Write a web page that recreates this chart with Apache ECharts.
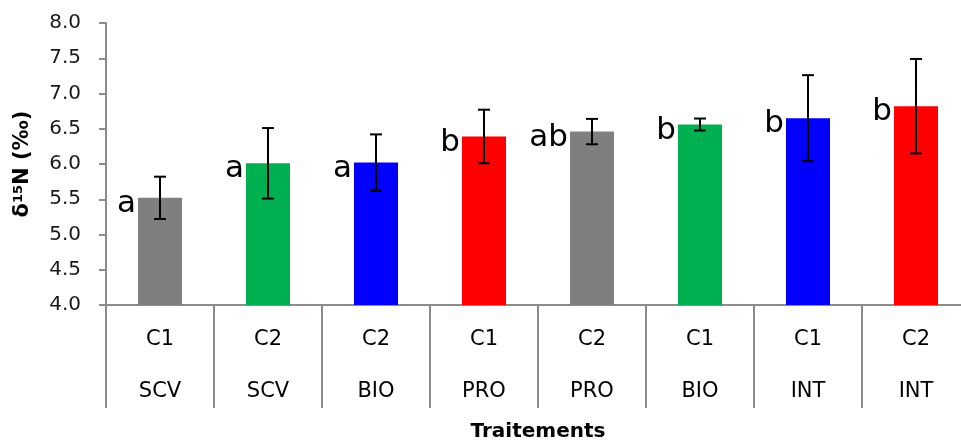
<!DOCTYPE html>
<html>
<head>
<meta charset="utf-8">
<script src="https://cdn.jsdelivr.net/npm/echarts@6/dist/echarts.min.js"></script>
<style>
  html, body { margin: 0; padding: 0; background: #fff; }
  #chart { width: 961px; height: 441px; }
</style>
</head>
<body>
<div id="chart"></div>
<script>
// Treatment labels: condition (upper row) and system (lower row)
const conditions = ['C1', 'C2', 'C2', 'C1', 'C2', 'C1', 'C1', 'C2'];
const systems = ['SCV', 'SCV', 'BIO', 'PRO', 'PRO', 'BIO', 'INT', 'INT'];
// Mean δ15N (‰) and standard deviation per treatment
const means = [5.52, 6.01, 6.02, 6.39, 6.46, 6.56, 6.65, 6.82];
const errors = [0.30, 0.50, 0.40, 0.38, 0.18, 0.085, 0.61, 0.67];
// Significance group letters
const letters = ['a', 'a', 'a', 'b', 'ab', 'b', 'b', 'b'];
// Y axis ticks
const yMin = 4.0, yMax = 8.0, yStep = 0.5;

const barColors = ['#7F7F7F', '#00B050', '#0000FF', '#FF0000', '#7F7F7F', '#00B050', '#0000FF', '#FF0000'];

const categories = conditions.map((c, i) => c + '|' + systems[i]);
const FONT = 'DejaVu Sans';
const AXIS_GRAY = '#8C8C8C';

const chart = echarts.init(document.getElementById('chart'), null, { renderer: 'canvas' });

chart.setOption({
  animation: false,
  grid: { left: 106, top: 23, width: 864, bottom: 136, containLabel: false, outerBoundsMode: 'none' },
  xAxis: {
    type: 'category',
    data: categories,
    name: 'Traitements',
    nameLocation: 'middle',
    nameGap: 117,
    nameTextStyle: { fontFamily: FONT, fontSize: 20, fontWeight: 'bold', color: '#000' },
    axisLine: { lineStyle: { color: AXIS_GRAY, width: 2 } },
    axisTick: { show: true, alignWithLabel: false, interval: 0, length: 103, lineStyle: { color: AXIS_GRAY, width: 2 } },
    axisLabel: {
      interval: 0,
      margin: 9,
      formatter: v => {
        const [c, s] = v.split('|');
        return '{c|' + c + '}\n{s|' + s + '}';
      },
      rich: {
        c: { fontFamily: FONT, fontSize: 21, color: '#000', lineHeight: 52 },
        s: { fontFamily: FONT, fontSize: 21, color: '#000', lineHeight: 52 }
      }
    },
    splitLine: { show: false }
  },
  yAxis: {
    type: 'value',
    min: yMin,
    max: yMax,
    interval: yStep,
    name: 'δ{sup|15}N (‰)',
    nameLocation: 'middle',
    nameGap: 73,
    nameTextStyle: {
      fontFamily: FONT, fontSize: 21, fontWeight: 'bold', color: '#000',
      rich: { sup: { fontFamily: FONT, fontSize: 13, fontWeight: 'bold', color: '#000', verticalAlign: 'top', padding: [0, 0, 8, 0] } }
    },
    axisLine: { show: true, lineStyle: { color: AXIS_GRAY, width: 2 } },
    axisTick: { show: true, inside: false, length: 7, lineStyle: { color: AXIS_GRAY, width: 2 } },
    axisLabel: {
      fontFamily: FONT, fontSize: 20, color: '#1a1a1a', margin: 25,
      formatter: v => v.toFixed(1)
    },
    splitLine: { show: false }
  },
  series: [
    {
      type: 'bar',
      barWidth: 44,
      data: means.map((m, i) => ({ value: m, itemStyle: { color: barColors[i] } })),
      label: {
        show: true,
        position: [-2, 6],
        align: 'right',
        verticalAlign: 'middle',
        fontFamily: FONT,
        fontSize: 31,
        color: '#000',
        formatter: p => letters[p.dataIndex]
      },
      z: 2
    },
    {
      type: 'custom',
      z: 3,
      data: means.map((m, i) => [i, m, errors[i]]),
      renderItem: (params, api) => {
        const i = api.value(0), m = api.value(1), e = api.value(2);
        const top = api.coord([i, m + e]);
        const bot = api.coord([i, m - e]);
        const half = 6;
        const style = { stroke: '#000', lineWidth: 2 };
        return {
          type: 'group',
          children: [
            { type: 'line', shape: { x1: top[0], y1: top[1], x2: bot[0], y2: bot[1] }, style },
            { type: 'line', shape: { x1: top[0] - half, y1: top[1], x2: top[0] + half, y2: top[1] }, style },
            { type: 'line', shape: { x1: bot[0] - half, y1: bot[1], x2: bot[0] + half, y2: bot[1] }, style }
          ]
        };
      }
    }
  ]
});
</script>
</body>
</html>
